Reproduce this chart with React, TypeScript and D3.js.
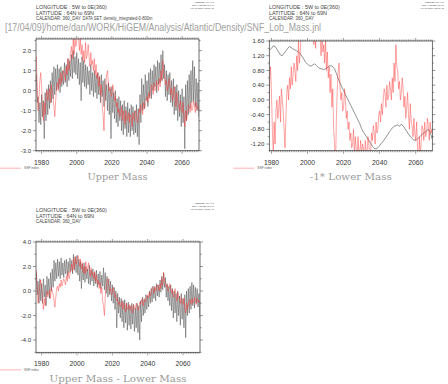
import React from 'react';
import * as d3 from 'd3';

// Half-yearly samples starting at 1977.0 (step 0.5 yr)
const START_YEAR = 1977;
const STEP = 0.5;

// SNF index (red) – same series in all three panels
const snfIndex = [
  1.7, 0.2, -1.0, -0.3, 0.5, 0.9, 0.2, -0.8, -1.5, -0.6,
  -1.2, -0.3, 0.0, -0.5, -0.2, 0.1, -0.6, 0.3, 0.0, -0.3,
  -0.8, -1.3, -0.5, 0.2, 0.4, 0.0, 0.6, 0.3, 0.9, 0.4,
  0.7, 1.0, 0.8, 0.5, 1.2, 0.8, 1.6, 1.0, 1.3, 1.9,
  2.2, 1.6, 2.6, 1.8, 2.8, 2.2, 2.5, 2.9, 2.7, 2.0,
  2.6, 1.8, 2.3, 1.5, 2.0, 1.4, 2.4, 1.6, 1.8, 2.3,
  1.7, 1.2, 1.9, 1.3, 1.5, 1.0, 1.6, 0.8, 1.3, 0.6,
  0.9, 0.2, 0.7, -0.2, 0.3, -0.8, -1.2, -2.0, -0.5, 0.3,
  0.8, 1.0, 0.4, 0.0, 0.2, -0.3, -0.2, 0.3, 0.0, -0.5,
  -0.3, -0.8, -0.6, -1.1, -0.9, -1.3, -1.2, -0.8, -1.5, -1.0,
  -1.3, -1.7, -1.0, -1.5, -1.4, -1.1, -1.6, -1.2, -1.3, -1.8,
  -1.1, -1.4, -1.5, -1.0, -1.2, -1.6, -1.4, -0.9, -1.1, -0.7,
  -0.9, -1.2, -0.6, -0.9, -0.8, -0.4, -0.3, -0.6, -0.1, -0.4,
  0.0, 0.3, 0.2, -0.2, 0.4, 0.0, 0.1, 0.5, 0.3, 0.0,
  0.6, 0.2, 1.0, 0.5, 1.5, 0.9, 0.8, 0.3, 0.5, 0.0,
  0.2, 0.6, 0.3, -0.2, 0.1, -0.5, -0.2, 0.2, -0.4, -0.8,
  -0.1, -0.6, -0.7, -1.0, -0.5, -0.9, -1.1, -0.6, -1.3, -1.8,
  -1.0, -1.5, -1.2, -0.7, -0.8, -1.1, -0.6, -1.0, -0.9, -0.5,
  -0.7, -1.1, -0.6, -0.9, -0.8, -1.0,
];

// Upper Mass (black), panel 1
const upperMass = [
  0.8, -0.6, -0.3, -1.6, -0.6, -1.7, -0.2, -1.3, -0.5, -2.4,
  -0.1, -1.5, 0.1, -1.2, 0.3, -0.9, 0.5, -0.6, 0.9, -0.4,
  1.2, -0.2, 1.1, 0.0, 1.3, 0.1, 1.1, -0.1, 1.2, 0.2,
  1.0, 0.3, 1.4, 0.4, 1.3, 0.2, 1.6, 0.5, 1.5, 0.7,
  1.8, 0.6, 2.0, 0.9, 1.7, 0.8, 1.9, 0.6, 1.6, 0.3,
  1.4, -0.5, 1.7, 0.4, 1.5, 0.2, 1.3, 0.1, 1.2, 0.3,
  1.0, -0.2, 1.3, 0.0, 0.9, -0.3, 1.0, -0.1, 0.8, -0.4,
  0.9, -0.2, 0.7, -0.6, 0.8, -0.3, 0.5, -0.8, 0.6, -0.5,
  0.3, -1.0, 0.4, -1.2, 0.1, -2.4, 0.2, -1.1, -0.1, -1.4,
  0.0, -1.6, -0.4, -1.8, -0.3, -1.5, -0.5, -2.0, -0.7, -2.2,
  -0.5, -1.9, -0.8, -2.3, -0.6, -2.1, -0.9, -2.3, -0.7, -2.0,
  -0.8, -2.2, -1.0, -2.1, -0.7, -2.3, -0.9, -2.7, -0.2, -1.6,
  0.6, -1.0, 0.3, -0.9, 0.8, -0.5, 0.5, -0.8, 0.9, -0.3,
  1.1, -0.4, 1.0, 0.0, 1.3, 0.2, 1.2, -0.1, 1.5, 0.3,
  1.4, 0.4, 1.8, 0.5, 2.0, 0.6, 1.3, -0.3, 1.0, -0.5,
  0.8, -0.2, 0.9, -0.6, 0.5, -0.8, 0.6, -1.2, 0.2, -1.0,
  0.3, -1.5, 0.0, -1.3, -0.2, -1.8, 0.1, -1.6, -0.3, -2.9,
  0.3, -1.5, 0.5, -1.2, 0.8, -0.9, 1.0, -0.6, 1.5, -0.5,
  1.2, -0.8, 0.6, -1.0, 0.4, -1.3,
];

// Upper Mass - Lower Mass (black), panel 3
const upperMinusLower = [
  1.5, -0.3, 0.8, -1.0, 1.0, -0.8, 0.6, -1.0, 1.0, -0.5,
  0.5, -1.2, 1.2, -0.3, 1.0, -0.6, 1.5, 0.0, 1.8, 0.3,
  2.5, 0.8, 2.3, 1.0, 2.6, 1.2, 2.4, 1.0, 2.7, 1.3,
  2.3, 1.1, 2.5, 1.4, 2.6, 1.2, 2.4, 1.5, 2.7, 1.6,
  2.5, 1.4, 3.0, 1.7, 2.8, 1.5, 2.9, 1.3, 2.6, 0.8,
  2.4, 0.2, 2.2, 0.9, 2.3, 0.7, 2.0, 1.0, 1.8, 0.6,
  2.1, 0.5, 1.7, 0.8, 1.8, 0.4, 1.5, 0.6, 1.7, 0.3,
  1.4, 0.5, 1.6, 0.2, 1.3, 0.4, 1.9, 0.1, 1.5, -0.2,
  1.2, -0.5, 1.0, -0.3, 0.8, -0.8, 0.5, -1.0, 0.3, -1.5,
  0.0, -3.0, -0.2, -1.8, -0.5, -2.2, -0.6, -2.5, -0.8, -3.0,
  -0.7, -2.6, -1.0, -3.2, -0.9, -2.8, -1.2, -3.1, -1.0, -2.7,
  -1.1, -3.3, -1.4, -3.0, -1.0, -3.4, -1.2, -4.0, -0.8, -2.5,
  -0.5, -2.0, -0.7, -1.8, -0.3, -1.5, -0.4, -1.3, 0.0, -1.0,
  0.2, -0.9, 0.4, -0.6, 0.3, -0.8, 0.6, -0.4, 0.5, -0.5,
  0.9, -0.1, 1.2, 0.1, 1.5, 0.3, 1.1, -0.5, 0.6, -0.8,
  0.4, -1.2, 0.5, -1.6, 0.2, -2.2, 0.0, -1.8, -0.2, -2.5,
  0.0, -2.0, -0.4, -2.8, -0.2, -2.3, -0.6, -3.0, -0.3, -3.8,
  0.0, -2.0, 0.2, -1.8, 0.4, -1.5, 0.7, -1.2, 0.5, -1.4,
  0.3, -1.0, 0.2, -1.3, -0.2, -2.2,
];

// -1 * Lower Mass (black, smooth), panel 2
const lowerYears = [
  1979, 1980, 1981, 1982, 1983, 1984, 1985, 1986, 1987, 1988,
  1989, 1990, 1991, 1992, 1993, 1994, 1995, 1996, 1997, 1998,
  1999, 2000, 2001, 2002, 2003, 2004, 2005, 2006, 2007, 2008,
  2009, 2010, 2011, 2012, 2013, 2014, 2015, 2016, 2017, 2018,
  2019, 2020, 2021, 2022, 2023, 2024, 2025, 2026, 2027, 2028,
  2029, 2030, 2031, 2032, 2033, 2034, 2035, 2036, 2037, 2038,
  2039, 2040, 2041, 2042, 2043, 2044, 2045, 2046, 2047, 2048,
  2049, 2050, 2051, 2052, 2053, 2054, 2055, 2056, 2057, 2058,
  2059, 2060, 2061, 2062, 2063, 2064, 2065, 2066, 2067, 2068,
  2069,
];
const lowerNeg = [
  1.35, 1.40, 1.47, 1.45, 1.38, 1.30, 1.22, 1.20, 1.27, 1.33,
  1.40, 1.45, 1.42, 1.38, 1.36, 1.33, 1.30, 1.25, 1.18, 1.10,
  1.02, 0.97, 0.93, 0.92, 0.95, 0.98, 0.93, 0.88, 0.85, 0.84,
  0.82, 0.85, 0.88, 0.92, 0.93, 0.90, 0.84, 0.72, 0.58, 0.46,
  0.35, 0.26, 0.15, 0.05, -0.05, -0.15, -0.25, -0.35, -0.45, -0.55,
  -0.65, -0.78, -0.88, -0.95, -1.02, -1.10, -1.18, -1.26, -1.32, -1.33,
  -1.30, -1.24, -1.18, -1.12, -1.05, -0.98, -0.90, -0.83, -0.76, -0.72,
  -0.70, -0.68, -0.72, -0.66, -0.70, -0.78, -0.85, -0.93, -0.99, -1.05,
  -1.09, -1.10, -1.06, -1.01, -0.96, -0.92, -0.88, -0.84, -0.80, -0.88,
  -1.05,
];

const xTickYears = [1980, 2000, 2020, 2040, 2060];
const upperTicks = [-3, -2, -1, 0, 1, 2];
const lowerTicks = [-1.2, -0.8, -0.4, 0, 0.4, 0.8, 1.2, 1.6];
const diffTicks = [-4, -2, 0, 2, 4];

const headerLines = ['LONGITUDE : 5W to 0E(360)', 'LATITUDE : 64N to 69N', 'CALENDAR: 360_DAY'];
const ferretLines = ['FERRET Ver. 6.1', 'NOAA/PMEL TMAP', 'Apr 17 2009 12:01:43'];
const pathText = '[17/04/09]/home/dan/WORK/HiGEM/Analysis/Atlantic/Density/SNF_Lob_Mass.jnl';

type Pt = [number, number];
const halfYearly = (vals: number[]): Pt[] => vals.map((v, i) => [START_YEAR + i * STEP, v]);

const SANS = 'Liberation Sans, Arial, sans-serif';
const SERIF = 'DejaVu Serif, Liberation Serif, serif';

interface PanelProps {
  id: string;
  l: number; r: number; t: number; b: number;
  xDomain: [number, number];
  yDomain: [number, number];
  yTicks: number[];
  yMinor: number;
  digits: number;
  black: Pt[];
  red: Pt[];
  blackWidth: number;
  title: string;
  titleWidth: number;
}

function Panel(p: PanelProps) {
  const x = d3.scaleLinear().domain(p.xDomain).range([p.l, p.r]);
  const y = d3.scaleLinear().domain(p.yDomain).range([p.b, p.t]);
  const line = d3.line<Pt>().x(d => x(d[0])).y(d => y(d[1]));
  const minorYears = d3.range(Math.ceil(p.xDomain[0]), Math.floor(p.xDomain[1]) + 1);
  const minorY = d3.range(Math.ceil(p.yDomain[0] / p.yMinor - 1e-6), Math.floor(p.yDomain[1] / p.yMinor + 1e-6) + 1).map(k => k * p.yMinor);
  const fmt = (v: number) => (Math.abs(v) < 1e-9 ? 0 : v).toFixed(p.digits);
  const axisCol = '#333';
  return (
    <g>
      <defs>
        <clipPath id={p.id}>
          <rect x={p.l} y={p.t} width={p.r - p.l} height={p.b - p.t} />
        </clipPath>
      </defs>
      <g clipPath={`url(#${p.id})`}>
        <path d={line(p.black) || ''} fill="none" stroke="#4a4a4a" strokeWidth={p.blackWidth} />
        <path d={line(p.red) || ''} fill="none" stroke="#ff3030" strokeWidth={0.55} strokeOpacity={0.8} />
      </g>
      <rect x={p.l} y={p.t} width={p.r - p.l} height={p.b - p.t} fill="none" stroke={axisCol} strokeWidth={0.7} />
      {minorYears.map(yr => {
        const major = xTickYears.includes(yr);
        const len = major ? 3 : 1.5;
        return (
          <g key={'xt' + yr}>
            <line x1={x(yr)} x2={x(yr)} y1={p.b} y2={p.b + len} stroke={axisCol} strokeWidth={0.5} />
            <line x1={x(yr)} x2={x(yr)} y1={p.t} y2={p.t - len} stroke={axisCol} strokeWidth={0.5} />
          </g>
        );
      })}
      {minorY.map((v, i) => {
        const major = p.yTicks.some(t => Math.abs(t - v) < 1e-6);
        const len = major ? 3 : 1.6;
        return (
          <g key={'yt' + i}>
            <line x1={p.l - len} x2={p.l} y1={y(v)} y2={y(v)} stroke={axisCol} strokeWidth={0.5} />
            <line x1={p.r} x2={p.r + len} y1={y(v)} y2={y(v)} stroke={axisCol} strokeWidth={0.5} />
          </g>
        );
      })}
      {p.yTicks.map(v => (
        <text key={'yl' + v} x={p.l - 5} y={y(v)} dy="0.35em" textAnchor="end" fontFamily={SANS} fontSize={6} fill="#333">{fmt(v)}</text>
      ))}
      {xTickYears.map(yr => (
        <text key={'xl' + yr} x={x(yr)} y={p.b + 14} textAnchor="middle" fontFamily={SANS} fontSize={6.8} fill="#333">{yr}</text>
      ))}
      <line x1={p.l - 36} x2={p.l - 15} y1={p.b + 17.5} y2={p.b + 17.5} stroke="#ff8080" strokeWidth={0.6} />
      <text x={p.l - 12} y={p.b + 18.5} fontFamily={SANS} fontSize={3.2} fill="#666">SNF index</text>
      <text x={(p.l + p.r) / 2} y={p.b + 29.5} textAnchor="middle" fontFamily={SERIF} fontSize={8.5} fill="#9a9a9a" textLength={p.titleWidth} lengthAdjust="spacingAndGlyphs">{p.title}</text>
    </g>
  );
}

function Header({ x, y, withDataSet }: { x: number; y: number; withDataSet?: boolean }) {
  const widths = [70.7, 58, 45];
  return (
    <g fontFamily={SANS} fontSize={4.5} fill="#444">
      {headerLines.map((s, i) => (
        <text key={i} x={x} y={y + i * 5.5} textLength={widths[i]} lengthAdjust="spacingAndGlyphs">{s}</text>
      ))}
      {withDataSet && (
        <text x={x + 46.5} y={y + 11} textLength={70} lengthAdjust="spacingAndGlyphs">DATA SET: density_integrated-0-800m</text>
      )}
    </g>
  );
}

function Stamp({ x, y }: { x: number; y: number }) {
  return (
    <g fontFamily={SANS} fontSize={2.5} fill="#444" textAnchor="end">
      {ferretLines.map((s, i) => (
        <text key={i} x={x} y={y + i * 2.8}>{s}</text>
      ))}
    </g>
  );
}

export default function App() {
  const red = halfYearly(snfIndex);
  const p1 = halfYearly(upperMass);
  const p3 = halfYearly(upperMinusLower);
  const p2: Pt[] = lowerYears.map((yr, i) => [yr, lowerNeg[i]]);
  return (
    <svg width={448} height={384} style={{ position: 'absolute', left: 0, top: 0, background: '#fff' }}>
      <rect width={448} height={384} fill="#fff" />
      <Header x={36} y={9} withDataSet />
      <Header x={269} y={9} />
      <Header x={36} y={212} />
      <Stamp x={214} y={3} />
      <Stamp x={444} y={3} />
      <Stamp x={214} y={204} />
      <text x={5} y={31} fontFamily={SANS} fontSize={10} fill="#a0a0a0" textLength={316} lengthAdjust="spacingAndGlyphs">{pathText}</text>
      <Panel id="c1" l={36} r={199} t={39} b={150.7} xDomain={[1976.8, 2069.6]} yDomain={[-3, 2.58]}
        yTicks={upperTicks} yMinor={0.5} digits={1} black={p1} red={red} blackWidth={0.5} title="Upper Mass" titleWidth={60} />
      <Panel id="c2" l={269.3} r={432.3} t={41} b={150.7} xDomain={[1978.8, 2069.2]} yDomain={[-1.38, 1.6]}
        yTicks={lowerTicks} yMinor={0.2} digits={2} black={p2} red={red} blackWidth={0.6} title="-1* Lower Mass" titleWidth={82} />
      <Panel id="c3" l={36} r={200} t={242} b={352.3} xDomain={[1976.8, 2069.6]} yDomain={[-5, 4]}
        yTicks={diffTicks} yMinor={1} digits={1} black={p3} red={red} blackWidth={0.5} title="Upper Mass - Lower Mass" titleWidth={137} />
    </svg>
  );
}
